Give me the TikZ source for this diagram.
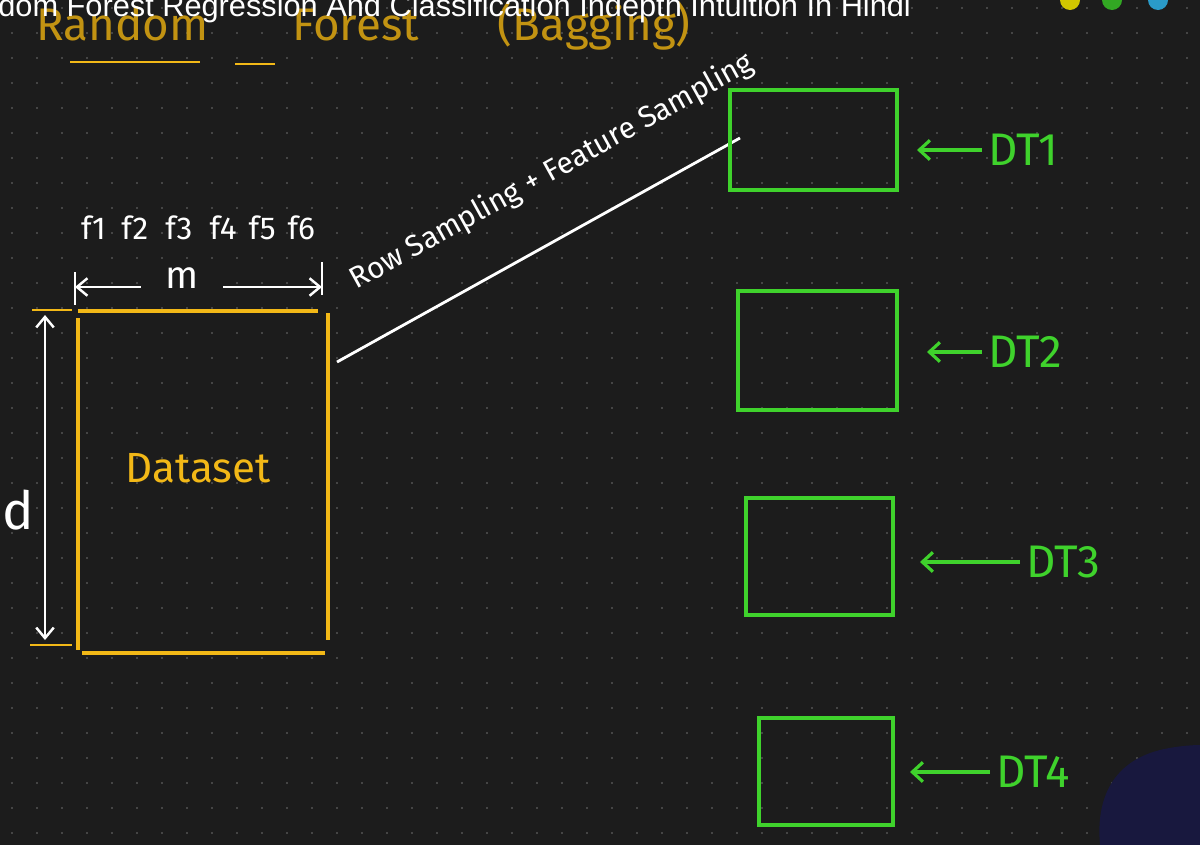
\documentclass[tikz,border=0pt]{standalone}
\usepackage{fontspec}
\setmainfont{Liberation Sans}
\newfontfamily\hand{Fira Sans}
\usetikzlibrary{arrows.meta}
\definecolor{bg}{HTML}{1C1C1C}
\definecolor{yel}{HTML}{F2B817}
\definecolor{grn}{HTML}{3FD22C}
\tikzset{
  dtbox/.style={draw=grn,line width=2.2pt},
  dtarrow/.style={draw=grn,line width=1.8pt,-{Straight Barb[length=6pt,width=11pt]}},
  dtlabel/.style={text=grn,font=\hand\fontsize{26}{26}\selectfont,anchor=west},
  yline/.style={draw=yel,line width=2.4pt},
  warrow/.style={draw=white,line width=1.4pt,{Straight Barb[length=6pt,width=10pt]}-{Straight Barb[length=6pt,width=10pt]}}
}
\begin{document}
\begin{tikzpicture}[x=0.02cm,y=-0.02cm]
\fill[bg] (0,0) rectangle (1200,845);
\useasboundingbox (0,0) rectangle (1200,845);
\foreach \i in {0,...,48}{\foreach \j in {0,...,34}{\fill[white!25!bg] (\i*25+12,\j*25+8) circle (0.6pt);}}
% heading
\node[text=yel!80!black,font=\hand\fontsize{26}{26}\selectfont,anchor=west] (hd) at (30,26) {Random \hspace{1.2cm} Forest \hspace{1.1cm} (Bagging)};
\draw[yline,line width=1.6pt] (70,62) -- (200,62);
\draw[yline,line width=1.6pt] (235,64) -- (275,64);
\node[text=white,font=\fontsize{17.5}{17.5}\selectfont,anchor=west,inner sep=0pt] (title) at (-2,9) {dom Forest Regression And Classification Indepth Intuition In Hindi};
\fill[yellow!60!olive] (1070,0) circle (10);
\fill[grn!80!black] (1112,0) circle (10);
\fill[cyan!60!teal] (1158,0) circle (10);
% dataset
\draw[yline] (78,311) -- (318,311);
\draw[yline] (78,318) -- (78,650);
\draw[yline] (82,653) -- (325,653);
\draw[yline] (328,313) -- (328,640);
\draw[yline,line width=1.6pt] (32,310) -- (72,310);
\draw[yline,line width=1.6pt] (30,645) -- (72,645);
\node[text=yel,font=\hand\fontsize{24}{24}\selectfont] (ds) at (198,468) {Dataset};
\coordinate (mL) at (75,287); \coordinate (mR) at (322,287);
\draw[warrow] (mL) -- (mR);
\draw[white,line width=1.4pt] (75,272) -- (75,305);
\draw[white,line width=1.4pt] (322,262) -- (322,295);
\node[fill=bg,text=white,font=\hand\fontsize{22}{22}\selectfont,inner xsep=14pt] (m) at (182,278) {m};
\node[text=white,font=\hand\fontsize{18}{18}\selectfont] (fs) at (198,228) {f1\hspace{4pt} f2\hspace{5pt} f3\hspace{5pt} f4\hspace{2pt} f5\hspace{2pt} f6};
\coordinate (dT) at (45,315); \coordinate (dB) at (45,640);
\draw[warrow] (dT) -- (dB);
\node[text=white,font=\hand\fontsize{30}{30}\selectfont] (d) at (18,510) {d};
% sampling line
\coordinate (s1) at (337,362); \coordinate (s2) at (740,138);
\draw[white,line width=1.6pt] (s1) -- (s2);
\node[text=white,font=\hand\fontsize{17}{17}\selectfont,rotate=29] (samp) at (552,172) {Row Sampling + Feature Sampling};
% decision trees
\node[dtbox,minimum width=3.34cm,minimum height=2cm] (dt1) at (813.5,140) {};
\node[dtbox,minimum width=3.18cm,minimum height=2.38cm] (dt2) at (817.5,350.5) {};
\node[dtbox,minimum width=2.94cm,minimum height=2.34cm] (dt3) at (819.5,556.5) {};
\node[dtbox,minimum width=2.68cm,minimum height=2.14cm] (dt4) at (826,771.5) {};
\node[dtlabel] (l1) at (982,150) {DT1};
\node[dtlabel] (l2) at (982,352) {DT2};
\node[dtlabel] (l3) at (1020,562) {DT3};
\node[dtlabel] (l4) at (990,772) {DT4};
\draw[dtarrow] (l1.west) -- ++(-65,0);
\draw[dtarrow] (l2.west) -- ++(-55,0);
\draw[dtarrow] (l3.west) -- ++(-100,0);
\draw[dtarrow] (l4.west) -- ++(-80,0);
% person silhouette
\fill[blue!15!bg] (1100,845) .. controls (1095,790) and (1120,760) .. (1160,750) .. controls (1180,745) and (1200,745) .. (1200,745) -- (1200,845) -- cycle;
\end{tikzpicture}
\end{document}
